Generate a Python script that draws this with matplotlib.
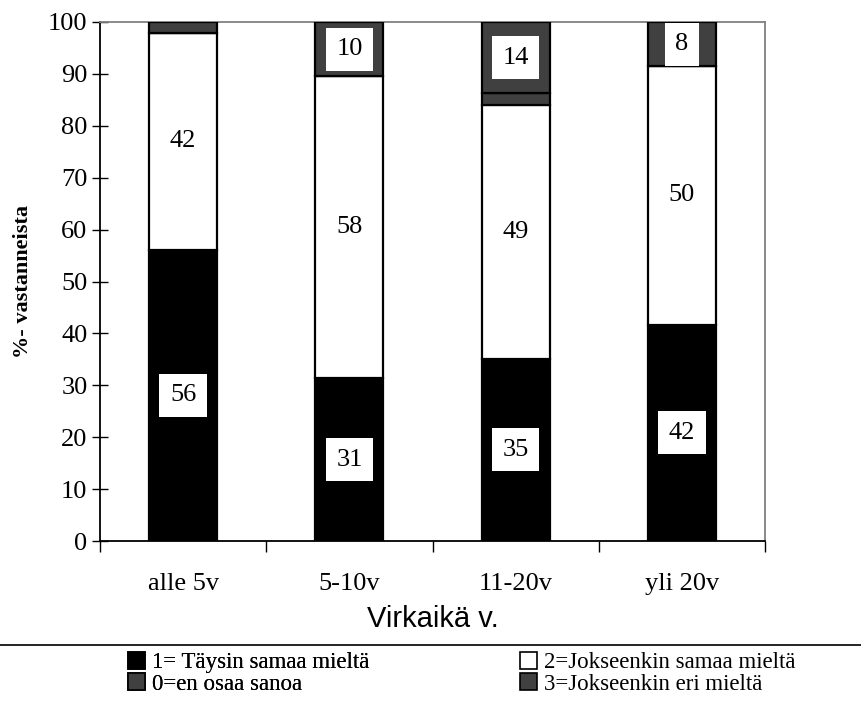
import matplotlib
matplotlib.use("Agg")
import matplotlib.pyplot as plt
import numpy as np
from matplotlib.patches import Patch
from matplotlib.lines import Line2D

categories = ["alle 5v", "5-10v", "11-20v", "yli 20v"]
s1_taysin = [56.1, 31.4, 35.1, 41.7]      # 1= Täysin samaa mieltä
s2_jokseenkin = [41.8, 58.1, 48.9, 49.8]  # 2=Jokseenkin samaa mieltä
s0_en_osaa = [0.0, 0.0, 2.3, 0.0]         # 0=en osaa sanoa
s3_eri = [2.1, 10.5, 13.7, 8.5]           # 3=Jokseenkin eri mieltä
labels_show = {
    "s1": [True, True, True, True],
    "s2": [True, True, True, True],
    "s0": [False, False, False, False],
    "s3": [False, True, True, True],
}
yticks = list(range(0, 101, 10))

serif = ["Liberation Serif", "DejaVu Serif"]
plt.rcParams["font.family"] = serif

fig = plt.figure(figsize=(8.61, 7.04), dpi=100)
ax = fig.add_axes([100/861, 1-541/704, 665/861, 519/704])

x = np.arange(len(categories))
w = 0.41
gray = "#404040"
series = [
    ("s1", s1_taysin, "black", "1= Täysin samaa mieltä"),
    ("s2", s2_jokseenkin, "white", "2=Jokseenkin samaa mieltä"),
    ("s0", s0_en_osaa, gray, "0=en osaa sanoa"),
    ("s3", s3_eri, gray, "3=Jokseenkin eri mieltä"),
]
bottom = np.zeros(len(categories))
handles = {}
for key, vals, col, lab in series:
    vals = np.array(vals)
    bars = ax.bar(x, vals, w, bottom=bottom, color=col, edgecolor="black",
                  linewidth=1.6, zorder=3)
    for i, b in enumerate(bars):
        if labels_show[key][i]:
            ax.text(x[i], bottom[i] + vals[i] / 2, f"{vals[i]:.0f}",
                    ha="center", va="center", fontsize=19, zorder=5,
                    bbox=dict(boxstyle="square,pad=0.4", fc="white", ec="none"))
    handles[key] = Patch(facecolor=col, edgecolor="black", linewidth=1.2, label=lab)
    bottom = bottom + vals

ax.set_xlim(-0.5, 3.5)
ax.set_ylim(0, 100)
ax.set_yticks(yticks)
ax.tick_params(axis="y", direction="inout", length=12, width=1, labelsize=19, pad=3)
ax.set_xticks(x)
ax.set_xticklabels(categories, fontsize=19)
ax.tick_params(axis="x", which="major", length=0, pad=23)
ax.set_xticks(np.arange(-0.5, 4.0, 1.0), minor=True)
ax.tick_params(axis="x", which="minor", direction="out", length=8, width=1)

ax.spines["left"].set_color("black")
ax.spines["left"].set_linewidth(1.3)
ax.spines["bottom"].set_color("black")
ax.spines["bottom"].set_linewidth(1.3)
ax.spines["top"].set_color("#808080")
ax.spines["top"].set_linewidth(1.3)
ax.spines["right"].set_color("#808080")
ax.spines["right"].set_linewidth(1.3)

ax.set_ylabel("%- vastanneista", fontsize=16, fontweight="bold", labelpad=11)
ax.set_xlabel("Virkaikä v.", fontsize=21, family=["Liberation Sans", "DejaVu Sans"], labelpad=7)

fig.add_artist(Line2D([0, 1], [1-645/704, 1-645/704], color="black", lw=1.2,
                      transform=fig.transFigure))

leg_kw = dict(loc="upper left", frameon=False, fontsize=16.5, handlelength=0.75,
              handleheight=0.75, handletextpad=0.3, labelspacing=0.0,
              borderpad=0, borderaxespad=0)
leg1 = fig.legend([handles["s1"], handles["s0"]],
                  [handles["s1"].get_label(), handles["s0"].get_label()],
                  bbox_to_anchor=(128/861, 1-652/704), **leg_kw)
fig.add_artist(leg1)
leg2 = fig.legend([handles["s2"], handles["s3"]],
                  [handles["s2"].get_label(), handles["s3"].get_label()],
                  bbox_to_anchor=(520/861, 1-652/704), **leg_kw)

fig.savefig("out.png", dpi=100)
